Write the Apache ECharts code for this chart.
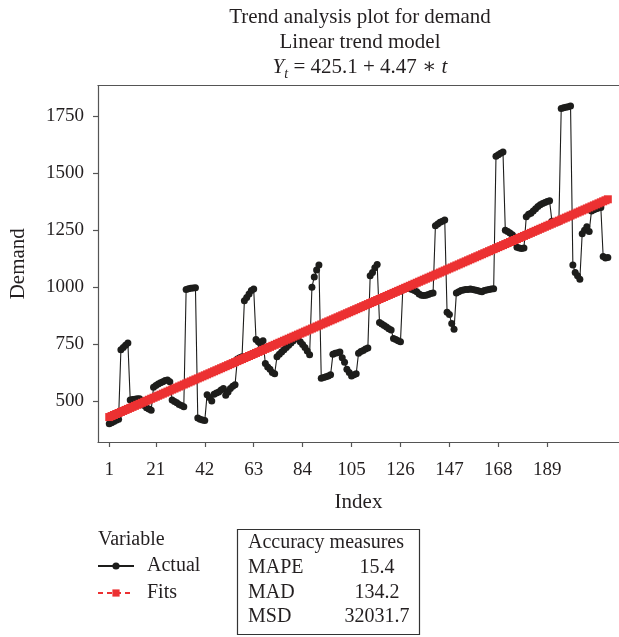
<!DOCTYPE html>
<html>
<head>
<meta charset="utf-8">
<title>Trend analysis plot for demand</title>
<script src="https://cdn.jsdelivr.net/npm/echarts@6/dist/echarts.min.js"></script>
<style>
  html, body { margin: 0; padding: 0; background: #ffffff; }
  #chart { width: 619px; height: 637px; }
</style>
</head>
<body>
<div id="chart"></div>
<script>
// Observed demand, one value per period (index 1..215)
const demand = [
  400, 405, 410, 415, 420,
  725, 735, 745, 755,
  505, 507, 508, 510, 510,
  495, 480, 470, 465, 460,
  560, 568, 575, 580, 585, 590, 592, 585,
  505, 498, 492, 485, 480, 475,
  990, 993, 995, 997, 998,
  425, 420, 417, 414,
  528, 515, 500,
  530, 535, 540, 548, 555, 525, 540, 555, 565, 572,
  685, 690, 695,
  940, 955, 970, 985, 992,
  770, 760, 750, 765,
  665, 650, 640, 625, 620,
  695, 705, 715, 725, 735, 745, 755, 765, 775, 782,
  760, 748, 735, 720, 703,
  1000, 1045, 1075, 1098,
  600, 603, 607, 610, 615,
  705, 710, 712, 715,
  690, 670, 640, 625, 610, 615, 620,
  710, 718, 722, 728, 733,
  1050, 1065, 1085, 1100,
  845, 838, 832, 825, 818, 812,
  775, 770, 765, 760,
  990, 993, 995, 993, 990, 985, 980, 970, 965, 963, 965,
  968, 972, 975,
  1270, 1278, 1285, 1290, 1295,
  890, 880, 840, 815,
  975, 980, 985, 988, 990, 990, 992, 990, 988, 985, 982, 980, 985, 988, 990, 992, 993,
  1575, 1582, 1588, 1594,
  1250, 1245, 1238, 1230, 1220,
  1175, 1172, 1170, 1172,
  1310, 1320, 1325, 1335, 1345, 1355, 1362, 1368, 1372, 1376, 1380,
  1290, 1286, 1285, 1288,
  1785, 1788, 1790, 1793, 1796,
  1098, 1065, 1050, 1035,
  1235, 1250, 1265, 1245,
  1335, 1340, 1345, 1348, 1350,
  1135, 1128, 1130
];

// Fitted linear trend model: Yt = 425.1 + 4.47 * t
const INTERCEPT = 425.1;
const SLOPE = 4.47;

// Tick labels
const indexTicks = [1, 21, 42, 63, 84, 105, 126, 147, 168, 189];
const demandTicks = [500, 750, 1000, 1250, 1500, 1750];

// Accuracy measures
const accuracyNames = ['MAPE', 'MAD', 'MSD'];
const accuracyValues = ['15.4', '134.2', '32031.7'];

const periods = demand.map((_, i) => i + 1);
const actualData = periods.map((t, i) => [t, demand[i]]);
const fitsData = periods.map(t => [t, +(INTERCEPT + SLOPE * t).toFixed(2)]);

const FONT = '"Liberation Serif", "DejaVu Serif", serif';
const INK = '#231f20';
const AXIS = '#555555';
const RED = '#ec3132';

const X_MIN = -3.83;
const X_MAX = 219.8;

const chart = echarts.init(document.getElementById('chart'), null, { renderer: 'canvas' });

const accuracyGraphics = [];
accuracyGraphics.push({
  type: 'rect',
  shape: { x: 237.5, y: 529.5, width: 182, height: 105 },
  style: { fill: 'none', stroke: '#333', lineWidth: 1.2 }
});
accuracyGraphics.push({
  type: 'text',
  style: { text: 'Accuracy measures', x: 248, y: 543, textVerticalAlign: 'middle',
           font: '20px ' + FONT, fill: INK }
});
accuracyNames.forEach((name, i) => {
  const y = 568 + i * 24.5;
  accuracyGraphics.push({
    type: 'text',
    style: { text: name, x: 248, y: y, textVerticalAlign: 'middle', font: '20px ' + FONT, fill: INK }
  });
  accuracyGraphics.push({
    type: 'text',
    style: { text: accuracyValues[i], x: 377, y: y, textAlign: 'center', textVerticalAlign: 'middle',
             font: '20px ' + FONT, fill: INK }
  });
});

const option = {
  animation: false,
  backgroundColor: '#ffffff',
  graphic: [
    {
      type: 'text',
      style: { text: 'Trend analysis plot for demand', x: 360, y: 17, textAlign: 'center',
               textVerticalAlign: 'middle', font: '21px ' + FONT, fill: INK }
    },
    {
      type: 'text',
      style: { text: 'Linear trend model', x: 360, y: 42, textAlign: 'center',
               textVerticalAlign: 'middle', font: '21px ' + FONT, fill: INK }
    },
    {
      type: 'text',
      style: {
        text: '{it|Y}{sub|t}{n| = 425.1 + 4.47 \u2217 }{it|t}',
        x: 360, y: 67, textAlign: 'center', textVerticalAlign: 'middle',
        fill: INK,
        rich: {
          it: { fontFamily: FONT, fontSize: 21, fontStyle: 'italic', lineHeight: 28, verticalAlign: 'middle', fill: INK },
          n: { fontFamily: FONT, fontSize: 21, lineHeight: 28, verticalAlign: 'middle', fill: INK },
          sub: { fontFamily: FONT, fontSize: 14, fontStyle: 'italic', lineHeight: 14, verticalAlign: 'bottom', fill: INK }
        }
      }
    },
    {
      type: 'text',
      style: { text: 'Variable', x: 98, y: 540, textVerticalAlign: 'middle', font: '20px ' + FONT, fill: INK }
    }
  ].concat(accuracyGraphics),
  legend: {
    data: ['Actual', 'Fits'],
    orient: 'vertical',
    left: 97,
    top: 556,
    padding: 0,
    itemWidth: 36,
    itemHeight: 9,
    itemGap: 7,
    textStyle: { fontFamily: FONT, fontSize: 20, color: INK, lineHeight: 20, padding: [0, 0, 0, 8] }
  },
  grid: {
    left: 98,
    right: -2,
    top: 85.5,
    bottom: 195,
    show: false,
    containLabel: false
  },
  xAxis: [
    {
      type: 'value',
      position: 'bottom',
      min: X_MIN,
      max: X_MAX,
      name: 'Index',
      nameLocation: 'middle',
      nameGap: 50,
      nameTextStyle: { fontFamily: FONT, fontSize: 21, color: INK },
      axisLine: { show: true, onZero: false, lineStyle: { color: AXIS, width: 1.2 } },
      axisTick: { show: true, inside: false, length: 5, customValues: indexTicks, lineStyle: { color: AXIS, width: 1.2 } },
      axisLabel: { customValues: indexTicks, margin: 19, fontFamily: FONT, fontSize: 19, color: INK },
      splitLine: { show: false }
    },
    {
      // plain frame line along the top of the plot
      type: 'value',
      position: 'top',
      min: X_MIN,
      max: X_MAX,
      axisLine: { show: true, onZero: false, lineStyle: { color: AXIS, width: 1.2 } },
      axisTick: { show: false },
      axisLabel: { show: false },
      splitLine: { show: false }
    }
  ],
  yAxis: {
    type: 'value',
    min: 320,
    max: 1886,
    name: 'Demand',
    nameLocation: 'middle',
    nameGap: 69,
    nameRotate: 90,
    nameTextStyle: { fontFamily: FONT, fontSize: 21, color: INK },
    axisLine: { show: true, onZero: false, lineStyle: { color: AXIS, width: 1.2 } },
    axisTick: { show: true, inside: false, length: 5, customValues: demandTicks, lineStyle: { color: AXIS, width: 1.2 } },
    axisLabel: { customValues: demandTicks, margin: 14, fontFamily: FONT, fontSize: 19, color: INK,
                 formatter: v => String(v) },
    splitLine: { show: false }
  },
  series: [
    {
      name: 'Actual',
      type: 'line',
      data: actualData,
      symbol: 'circle',
      symbolSize: 7,
      showAllSymbol: true,
      itemStyle: { color: '#1d1d1b' },
      lineStyle: { color: '#1d1d1b', width: 1.1 },
      z: 2
    },
    {
      name: 'Fits',
      type: 'line',
      data: fitsData,
      symbol: 'rect',
      symbolSize: 8,
      showAllSymbol: true,
      itemStyle: { color: RED },
      lineStyle: { color: RED, width: 1.2, type: [5, 4] },
      z: 3
    }
  ]
};

chart.setOption(option);
</script>
</body>
</html>
